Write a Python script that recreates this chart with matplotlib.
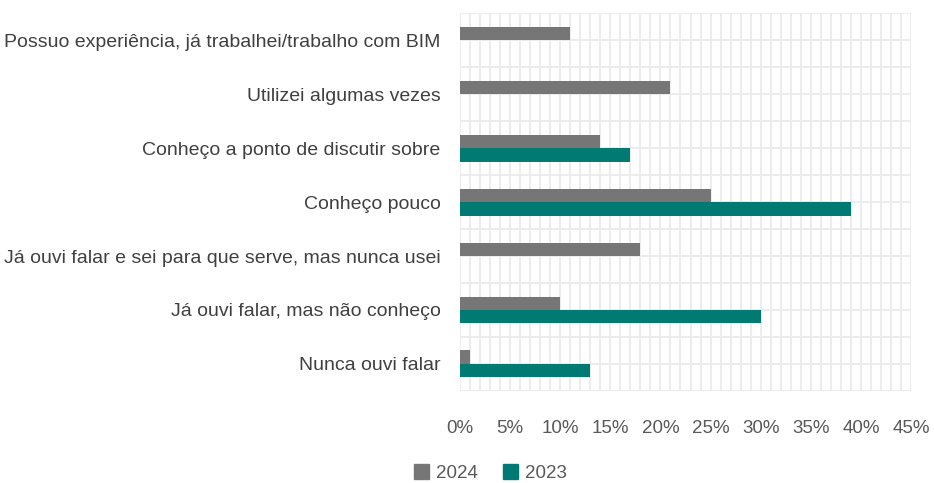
import matplotlib
matplotlib.use("Agg")
import matplotlib.pyplot as plt
from matplotlib.ticker import MultipleLocator, FuncFormatter
from matplotlib.patches import Patch
import numpy as np

categories = [
    "Possuo experiência, já trabalhei/trabalho com BIM",
    "Utilizei algumas vezes",
    "Conheço a ponto de discutir sobre",
    "Conheço pouco",
    "Já ouvi falar e sei para que serve, mas nunca usei",
    "Já ouvi falar, mas não conheço",
    "Nunca ouvi falar",
]
vals_2024 = [11, 21, 14, 25, 18, 10, 1]
vals_2023 = [0, 0, 17, 39, 0, 30, 13]
xticks = [0, 5, 10, 15, 20, 25, 30, 35, 40, 45]

C24 = "#767676"
C23 = "#007A73"
GRID = "#ebebeb"
TXT = "#595959"

fig = plt.figure(figsize=(9.34, 4.83), dpi=100)
ax = fig.add_axes([0.4925, 0.1905, 0.4829, 0.7825])

y = np.arange(len(categories))
h = 0.25
ax.barh(y - h / 2, vals_2024, height=h, color=C24, zorder=3)
ax.barh(y + h / 2, vals_2023, height=h, color=C23, zorder=3)

ax.set_xlim(0, 45)
ax.set_ylim(len(categories) - 0.5, -0.5)
ax.xaxis.set_minor_locator(MultipleLocator(1))
ax.set_xticks(xticks)
ax.xaxis.set_major_formatter(FuncFormatter(lambda v, p: f"{v:.0f}%"))
ax.set_yticks(y)
ax.set_yticklabels(categories)
ax.set_yticks(np.arange(-0.5, len(categories), 0.5), minor=True)

ax.grid(which="both", color=GRID, lw=1.3, zorder=0)
ax.set_axisbelow(True)
for s in ax.spines.values():
    s.set_visible(False)
ax.tick_params(which="both", length=0)
ax.tick_params(axis="x", pad=21, labelsize=13.5, labelcolor=TXT)
ax.tick_params(axis="y", pad=14, labelsize=14, labelcolor="#404040")
for t in ax.get_xticklabels():
    t.set_family(["Liberation Sans", "DejaVu Sans"])
for t in ax.get_yticklabels():
    t.set_family(["Liberation Sans", "DejaVu Sans"])

handles = [Patch(color=C24, label="2024"), Patch(color=C23, label="2023")]
fig.legend(handles=handles, loc="center left", bbox_to_anchor=(0.425, 0.02),
           ncol=2, frameon=False, handlelength=0.8, handleheight=0.8,
           handletextpad=0.4, columnspacing=1.3,
           prop={"family": ["Liberation Sans", "DejaVu Sans"], "size": 13.5},
           labelcolor=TXT)

fig.savefig("out.png", dpi=100)
